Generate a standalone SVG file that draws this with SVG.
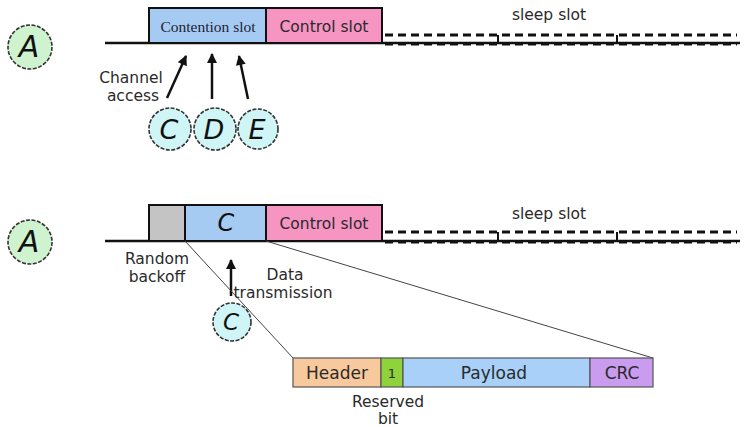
<svg xmlns="http://www.w3.org/2000/svg" width="754" height="427" viewBox="0 0 754 427">
<defs>
<marker id="ah" viewBox="0 0 10 10" refX="9" refY="5" markerWidth="4.5" markerHeight="4" orient="auto"><path d="M0,0 L10,5 L0,10 z" fill="#111"/></marker>
<style>
.t{font-family:"DejaVu Sans","Liberation Sans",sans-serif;font-size:15.5px;fill:#2a2a2a}
.s{font-family:"DejaVu Sans","Liberation Sans",sans-serif;font-size:15.5px;fill:#2a2a2a;text-anchor:middle}
.lbl{font-family:"DejaVu Sans","Liberation Sans",sans-serif;font-size:27px;font-style:italic;fill:#111;text-anchor:middle}
.base{stroke:#111;stroke-width:2.5;fill:none}
.box{stroke:#111;stroke-width:2}
.dash{stroke:#111;stroke-width:3;stroke-dasharray:8,5;fill:none}
.tick{stroke:#111;stroke-width:2;fill:none}
.nA{fill:#cff2cf;stroke:#333;stroke-width:1.6;stroke-dasharray:4,1.5}
.nC{fill:#cff5f7;stroke:#333;stroke-width:1.6;stroke-dasharray:4,1.5}
.arr{stroke:#111;stroke-width:2.5;marker-end:url(#ah);fill:none}
.thin{stroke:#444;stroke-width:1;fill:none}
.pk{stroke:#555;stroke-width:1.2}
</style>
</defs>
<rect width="754" height="427" fill="#fff"/>

<g id="row1">
<line class="base" x1="105" y1="43" x2="740" y2="43"/>
<rect class="box" x="149" y="8" width="117" height="35" fill="#a6cbf2"/>
<rect class="box" x="266" y="8" width="116" height="35" fill="#f694c2"/>
<text x="208" y="32" text-anchor="middle" style="font-family:'Liberation Serif',serif;font-size:15.5px;fill:#223">Contention slot</text>
<text class="s" x="324" y="32">Control slot</text>
<path class="dash" d="M385,35 H737"/>
<path class="dash" d="M385,44 H737"/>
<path class="tick" d="M498,35 V44 M617,35 V44"/>
<text class="s" x="549" y="20">sleep slot</text>
</g>

<g id="A1"><circle class="nA" cx="30" cy="47" r="22"/><text class="lbl" x="29" y="57" style="font-size:30px">A</text></g>
<g id="C1"><circle class="nC" cx="170" cy="129" r="21"/><text class="lbl" x="169" y="139">C</text></g>
<g id="D1"><circle class="nC" cx="215" cy="129" r="21"/><text class="lbl" x="214" y="139">D</text></g>
<g id="E1"><circle class="nC" cx="258" cy="129" r="20"/><text class="lbl" x="257" y="139">E</text></g>

<g id="connectors1">
<line class="arr" x1="167" y1="98" x2="186" y2="56"/>
<line class="arr" x1="212" y1="99" x2="212" y2="54"/>
<line class="arr" x1="248" y1="99" x2="239" y2="56"/>
</g>
<text class="s" x="131" y="83">Channel</text>
<text class="s" x="133" y="101">access</text>

<g id="row2">
<line class="base" x1="105" y1="241" x2="740" y2="241"/>
<rect class="box" x="149" y="205" width="36" height="36" fill="#c4c4c4"/>
<rect class="box" x="185" y="205" width="81" height="36" fill="#a6cbf2"/>
<rect class="box" x="266" y="205" width="116" height="36" fill="#f694c2"/>
<text class="lbl" x="226" y="231" style="font-size:24px">C</text>
<text class="s" x="324" y="229">Control slot</text>
<path class="dash" d="M385,232 H737"/>
<path class="dash" d="M385,242 H737"/>
<path class="tick" d="M498,232 V242 M617,232 V242"/>
<text class="s" x="549" y="219">sleep slot</text>
</g>

<g id="A2"><circle class="nA" cx="30" cy="242" r="22"/><text class="lbl" x="29" y="252" style="font-size:30px">A</text></g>
<g id="C2"><circle class="nC" cx="232" cy="322" r="19"/><text class="lbl" x="231" y="330" style="font-size:23px">C</text></g>

<g id="connectors2">
<line class="arr" x1="231" y1="296" x2="231" y2="260"/>
<line class="thin" x1="185" y1="241" x2="293" y2="358"/>
<line class="thin" x1="266" y1="241" x2="653" y2="358"/>
</g>
<text class="s" x="157" y="264">Random</text>
<text class="s" x="157" y="282">backoff</text>
<text class="s" x="285" y="280">Data</text>
<text class="s" x="283" y="298">transmission</text>

<g id="packet">
<rect class="pk" x="293" y="358" width="88" height="29" fill="#f8c99c"/>
<rect class="pk" x="381" y="358" width="22" height="29" fill="#8ed23c"/>
<rect class="pk" x="403" y="358" width="187" height="29" fill="#a8d0f8"/>
<rect class="pk" x="590" y="358" width="63" height="29" fill="#c99cf0"/>
<text class="s" x="337" y="379" style="font-size:17px">Header</text>
<text class="s" x="392" y="378" style="font-size:13px">1</text>
<text class="s" x="494" y="379" style="font-size:17px">Payload</text>
<text class="s" x="622" y="379" style="font-size:17px">CRC</text>
</g>
<text class="s" x="388" y="407">Reserved</text>
<text class="s" x="388" y="424">bit</text>
</svg>
